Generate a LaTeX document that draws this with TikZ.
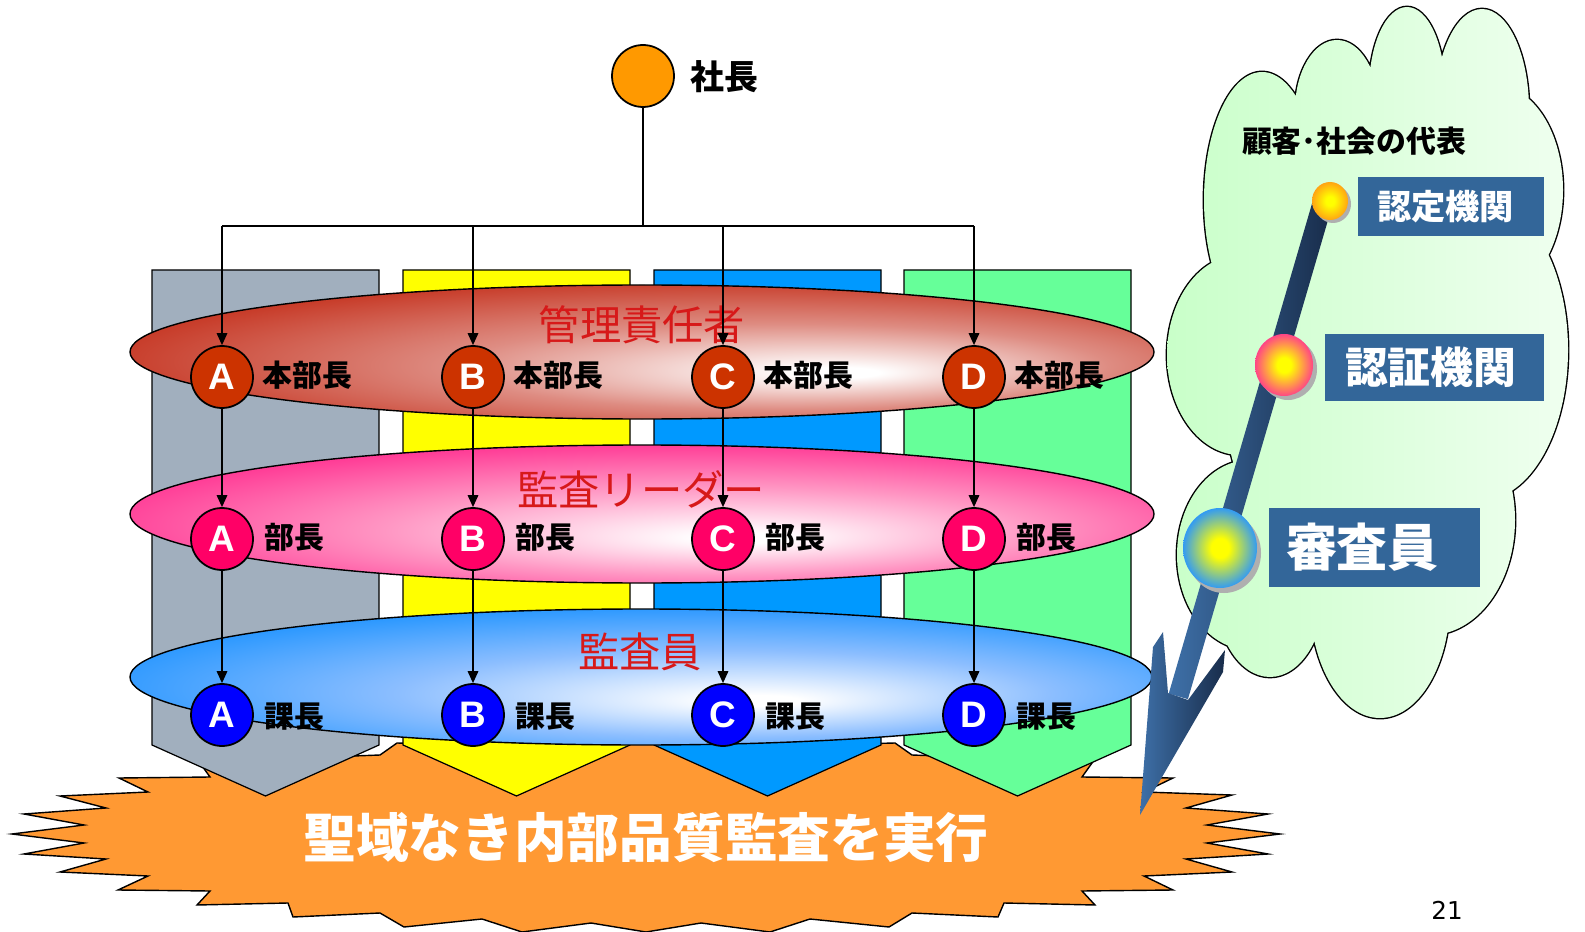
\documentclass[tikz,border=0pt]{standalone}
\usepackage{fontspec}
\setmainfont{Liberation Sans}
\newfontfamily\jp{Noto Sans CJK JP}
\newfontfamily\pnfont{DejaVu Sans}
\usetikzlibrary{arrows.meta}

\definecolor{colGray}{RGB}{161,175,190}
\definecolor{colYellow}{RGB}{255,255,0}
\definecolor{colBlue}{RGB}{0,153,255}
\definecolor{colGreen}{RGB}{102,255,153}
\definecolor{colBurst}{RGB}{255,153,51}
\definecolor{colRowR}{RGB}{204,51,0}
\definecolor{colRowP}{RGB}{255,0,102}
\definecolor{colRowB}{RGB}{0,0,255}
\definecolor{colPres}{RGB}{255,153,0}
\definecolor{colEllR}{RGB}{196,48,28}
\definecolor{colEllRm}{RGB}{222,140,130}
\definecolor{colEllP}{RGB}{255,40,140}
\definecolor{colEllPm}{RGB}{255,150,195}
\definecolor{colEllB}{RGB}{25,145,255}
\definecolor{colEllBm}{RGB}{140,190,255}
\definecolor{colTitle}{RGB}{215,25,25}
\definecolor{colBox}{RGB}{51,102,153}
\definecolor{colArrL}{RGB}{62,112,168}
\definecolor{colArrD}{RGB}{24,44,74}
\definecolor{colCloudA}{RGB}{200,255,200}
\definecolor{colCloudB}{RGB}{240,255,240}
\definecolor{colBallY}{RGB}{255,255,0}
\definecolor{colBallO}{RGB}{255,160,20}
\definecolor{colBallP}{RGB}{255,60,140}
\definecolor{colBallB}{RGB}{40,150,255}
\definecolor{colShadow}{RGB}{175,175,175}

\pgfdeclareradialshading{shR}{\pgfpoint{10bp}{-8bp}}{color(0bp)=(white);color(2bp)=(white);color(16bp)=(colEllRm);color(32bp)=(colEllR);color(50bp)=(colEllR)}
\pgfdeclareradialshading{shP}{\pgfpoint{5bp}{-9bp}}{color(0bp)=(white);color(2bp)=(white);color(16bp)=(colEllPm);color(32bp)=(colEllP);color(50bp)=(colEllP)}
\pgfdeclareradialshading{shB}{\pgfpoint{6bp}{-9bp}}{color(0bp)=(white);color(2bp)=(white);color(16bp)=(colEllBm);color(32bp)=(colEllB);color(50bp)=(colEllB)}
\pgfdeclareradialshading{shBallO}{\pgfpointorigin}{color(0bp)=(colBallY);color(6bp)=(colBallY);color(26bp)=(colBallO);color(50bp)=(colBallO)}
\pgfdeclareradialshading{shBallP}{\pgfpointorigin}{color(0bp)=(colBallY);color(6bp)=(colBallY);color(26bp)=(colBallP);color(50bp)=(colBallP)}
\pgfdeclareradialshading{shBallB}{\pgfpointorigin}{color(0bp)=(colBallY);color(6bp)=(colBallY);color(26bp)=(colBallB);color(50bp)=(colBallB)}

\newcommand\cloudEll{(1262,200) ellipse [x radius=58,y radius=128]
 (1337,110) ellipse [x radius=42,y radius=70]
 (1407,90) ellipse [x radius=38,y radius=83]
 (1482,110) ellipse [x radius=47,y radius=101]
 (1495,190) ellipse [x radius=68,y radius=105]
 (1482,350) ellipse [x radius=86,y radius=150]
 (1430,520) ellipse [x radius=85,y radius=115]
 (1380,600) ellipse [x radius=70,y radius=118]
 (1270,590) ellipse [x radius=55,y radius=87]
 (1250,555) ellipse [x radius=73,y radius=95]
 (1240,355) ellipse [x radius=73,y radius=100]
 (1370,360) ellipse [x radius=150,y radius=250]}

\begin{document}
\begin{tikzpicture}[x=0.02cm,y=-0.02cm,
  colshape/.style={draw=black,line width=0.7pt},
  ring/.style={draw=black,line width=0.8pt},
  ringtitle/.style={text=colTitle,inner sep=0pt,font=\jp\fontsize{23.5}{23.5}\selectfont},
  circ/.style={circle,draw=black,line width=1pt,minimum size=1.24cm,inner sep=0pt,text=white,font=\fontsize{21}{21}\selectfont\bfseries},
  lab/.style={anchor=west,inner sep=0pt,font=\jp\bfseries\fontsize{17}{17}\selectfont},
  conn/.style={line width=0.8pt},
  arr/.style={conn,-{Triangle[length=6.8pt,width=6pt]}},
  cbox/.style={fill=colBox,text=white,inner ysep=0pt,align=left},
]
\useasboundingbox (0,0) rectangle (1585,932);

% starburst
\draw[fill=colBurst,line width=0.8pt,line join=miter] (119,778) -- (210,777) -- (200,763) -- (300,758) -- (380,755) -- (397,743) -- (480,745) -- (500,732) -- (590,738) -- (646,725) -- (702,738) -- (792,732) -- (812,745) -- (895,743) -- (912,755) -- (992,758) -- (1092,763) -- (1082,777) -- (1173,778) -- (1144,792) -- (1232,795) -- (1186,808) -- (1268,814) -- (1207,825) -- (1280,834) -- (1207,843) -- (1268,854) -- (1186,859) -- (1232,872) -- (1144,876) -- (1173,890) -- (1082,891) -- (1095,905) -- (1004,903) -- (998,917) -- (912,913) -- (889,927) -- (810,919) -- (770,932) -- (701,923) -- (646,932) -- (591,923) -- (522,932) -- (482,919) -- (404,927) -- (380,913) -- (293,917) -- (288,903) -- (197,905) -- (210,891) -- (118,890) -- (148,876) -- (60,872) -- (106,859) -- (24,854) -- (84,843) -- (12,834) -- (84,825) -- (24,814) -- (106,808) -- (60,796) -- (148,792) -- cycle;

% columns
\foreach \xl/\c in {152/colGray,403/colYellow,654/colBlue,904/colGreen}{
  \draw[colshape,fill=\c] (\xl,270) -- (\xl+227,270) -- (\xl+227,745) -- (\xl+113.5,796) -- (\xl,745) -- cycle;
}

% goal text
\node[text=white,font=\jp\bfseries\fontsize{30}{30}\selectfont] (goal) at (646,838) {聖域なき内部品質監査を実行};

% ellipses
\path[ring,shading=shR] (642,352) ellipse [x radius=512,y radius=67];
\path[ring,shading=shP] (642,514) ellipse [x radius=512,y radius=69];
\path[ring,shading=shB] (641,677) ellipse [x radius=511,y radius=68];
\node[ringtitle] (t1) at (642,325) {管理責任者};
\node[ringtitle] (t2) at (641,489) {監査リーダー};
\node[ringtitle] (t3) at (640,652) {監査員};

% president
\node[circle,draw=black,line width=1pt,fill=colPres,minimum size=1.24cm,inner sep=0pt] (pres) at (643,76) {};
\node[lab,font=\jp\bfseries\fontsize{19.3}{19.3}\selectfont] (presl) at (690,77) {社長};
\coordinate (bus) at (643,226);

% department circles
\foreach \x/\L/\n in {222/A/a,473/B/b,723/C/c,974/D/d}{
  \node[circ,fill=colRowR] (\n1) at (\x,377) {\L};
  \node[circ,fill=colRowP] (\n2) at (\x,539) {\L};
  \node[circ,fill=colRowB] (\n3) at (\x,715) {\L};
  \node[lab] (\n1l) at (\x+40,375) {本部長};
  \node[lab] (\n2l) at (\x+42,537) {部長};
  \node[lab] (\n3l) at (\x+42,717) {課長};
}

% connectors
\draw[conn] (pres) -- (bus);
\draw[conn] (a1 |- bus) -- (d1 |- bus);
\foreach \n in {a,b,c,d}{
  \draw[arr] (\n1 |- bus) -- (\n1);
  \draw[arr] (\n1) -- (\n2);
  \draw[arr] (\n2) -- (\n3);
}

% cloud
\path[draw=black,line width=1.6pt] \cloudEll;
\begin{scope}
  \clip \cloudEll;
  \shade[left color=colCloudA,right color=colCloudB] (1160,0) rectangle (1575,725);
\end{scope}
\node[font=\jp\bfseries\fontsize{17}{17}\selectfont,inner sep=0pt] (rep) at (1354,141) {顧客･社会の代表};

% big arrow
\shade[left color=colArrL,right color=colArrD,shift={(1322,205)},rotate=-16.3] (-10,0) rectangle (10,512);
\shade[left color=colArrL,right color=colArrD] (1168,693) -- (1163,632) -- (1153,647) -- (1140,815) -- (1223,672) -- (1225,650) -- (1188,700) -- cycle;

% balls
\fill[colShadow] (1333,204) ellipse [x radius=18,y radius=19];
\path[shading=shBallO] (1330,201) ellipse [x radius=18,y radius=19];
\fill[colShadow] (1288,369) ellipse [x radius=29,y radius=31];
\path[shading=shBallP] (1284,365) ellipse [x radius=29,y radius=31];
\fill[colShadow] (1224,553) ellipse [x radius=37,y radius=40];
\path[shading=shBallB] (1220,548) ellipse [x radius=37,y radius=40];

% boxes
\node[cbox,minimum height=1.18cm,inner xsep=0.38cm,text width=2.96cm,font=\jp\bfseries\fontsize{19.5}{19.5}\selectfont] (nintei) at (1451,206.5) {認定機関};
\node[cbox,minimum height=1.34cm,inner xsep=0.40cm,text width=3.58cm,font=\jp\bfseries\fontsize{24.4}{24.4}\selectfont] (ninsho) at (1434.5,367.5) {認証機関};
\node[cbox,minimum height=1.58cm,inner xsep=0.34cm,text width=3.54cm,font=\jp\bfseries\fontsize{29}{29}\selectfont] (shinsa) at (1374.5,547.5) {審査員};

% page number
\node[font=\pnfont\fontsize{14}{14}\selectfont] (pg) at (1447,910) {21};
\end{tikzpicture}
\end{document}
